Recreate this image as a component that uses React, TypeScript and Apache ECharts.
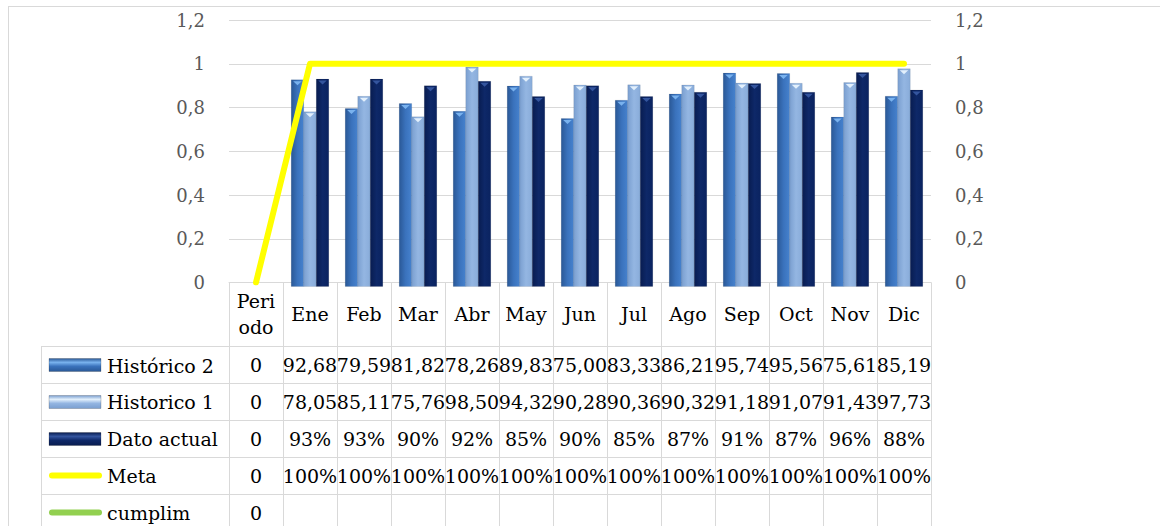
import React, { useEffect, useRef } from "react";
import * as echarts from "echarts";

const categories = ["Periodo", "Ene", "Feb", "Mar", "Abr", "May", "Jun", "Jul", "Ago", "Sep", "Oct", "Nov", "Dic"];
const historico2 = [0, 92.68, 79.59, 81.82, 78.26, 89.83, 75.0, 83.33, 86.21, 95.74, 95.56, 75.61, 85.19];
const historico1 = [0, 78.05, 85.11, 75.76, 98.5, 94.32, 90.28, 90.36, 90.32, 91.18, 91.07, 91.43, 97.73];
const datoActual = [0, 0.93, 0.93, 0.9, 0.92, 0.85, 0.9, 0.85, 0.87, 0.91, 0.87, 0.96, 0.88];
const meta = [0, 1, 1, 1, 1, 1, 1, 1, 1, 1, 1, 1, 1];
const cumplim: (number | null)[] = [0, null, null, null, null, null, null, null, null, null, null, null, null];
const seriesNames = ["Histórico 2", "Historico 1", "Dato actual", "Meta", "cumplim"];

const FONT = "DejaVu Serif";
const GRID_LEFT = 229;
const GRID_RIGHT_X = 931;
const GRID_TOP = 20;
const AXIS_Y = 283;
const ROW_LINES = [346, 383, 420, 457, 494, 531];
const LEGEND_LEFT = 41;
const BORDER = "#D9D9D9";

const barStyles = [
  { stops: ["#2A5896", "#3A72BC", "#4682CE"], tri: "#79B2EE" },
  { stops: ["#7A9FD0", "#94B6E2", "#89ACDA"], tri: "#E3F0FC" },
  { stops: ["#081C50", "#0E2868", "#0A2360"], tri: "#34559E" },
];

function grad(stops: string[]) {
  return new echarts.graphic.LinearGradient(0, 0, 1, 0, [
    { offset: 0, color: stops[0] },
    { offset: 0.5, color: stops[1] },
    { offset: 1, color: stops[2] },
  ]);
}

function makeRender(idx: number) {
  return (params: any, api: any) => {
    const cat = api.value(0);
    const v = api.value(1);
    if (!v) return { type: "group", children: [] };
    const base = api.coord([cat, 0]);
    const top = api.coord([cat, v]);
    const catW = api.size([1, 0])[0];
    const bw = catW * 0.232;
    const x = base[0] + (idx - 1) * bw - bw / 2;
    const st = barStyles[idx];
    return {
      type: "group",
      children: [
        {
          type: "rect",
          shape: { x: x, y: top[1], width: bw, height: base[1] - top[1] + 4 },
          style: { fill: grad(st.stops), stroke: "rgba(0,0,0,0.15)", lineWidth: 0.5 },
        },
        {
          type: "polygon",
          shape: { points: [[x + 2, top[1] + 1.5], [x + bw - 2, top[1] + 1.5], [x + bw / 2, top[1] + 5.5]] },
          style: { fill: st.tri },
        },
      ],
    };
  };
}

function fmtHist(v: number) {
  return v === 0 ? "0" : v.toFixed(2).replace(".", ",");
}
function fmtPct(v: number | null) {
  if (v === null) return "";
  return v === 0 ? "0" : Math.round(v * 100) + "%";
}

export default function App() {
  const ref = useRef<HTMLDivElement>(null);
  useEffect(() => {
    if (!ref.current) return;
    const chart = echarts.init(ref.current, null, { renderer: "svg" });
    const axisLabelFmt = (v: number) => String(Math.round(v * 10) / 10).replace(".", ",");
    const rowTexts = [
      historico2.map(fmtHist),
      historico1.map(fmtHist),
      datoActual.map(fmtPct),
      meta.map(fmtPct),
      cumplim.map(fmtPct),
    ];
    const rowCenter = (ri: number) => (ROW_LINES[ri] + ROW_LINES[ri + 1]) / 2 + 1;
    const tableAxes = rowTexts.map((texts, ri) => ({
      type: "category",
      gridIndex: 0,
      position: "bottom",
      offset: rowCenter(ri) - AXIS_Y,
      data: categories,
      axisLine: { show: false },
      axisTick: { show: false },
      splitLine: { show: false },
      axisLabel: {
        interval: 0,
        margin: 0,
        verticalAlign: "middle",
        color: "#000",
        fontFamily: FONT,
        fontSize: 19,
        lineHeight: 26,
        hideOverlap: false,
        formatter: (_v: string, idx: number) => texts[idx],
      },
    }));

    const graphics: any[] = [];
    graphics.push({ type: "line", shape: { x1: 8, y1: 6.5, x2: 1160, y2: 6.5 }, style: { stroke: BORDER, lineWidth: 1 } });
    graphics.push({ type: "line", shape: { x1: 8.5, y1: 6, x2: 8.5, y2: 526 }, style: { stroke: BORDER, lineWidth: 1 } });
    ROW_LINES.slice(0, 5).forEach((y) => {
      graphics.push({ type: "line", shape: { x1: LEGEND_LEFT, y1: y + 0.5, x2: GRID_RIGHT_X, y2: y + 0.5 }, style: { stroke: BORDER, lineWidth: 1 } });
    });
    graphics.push({ type: "line", shape: { x1: LEGEND_LEFT + 0.5, y1: ROW_LINES[0], x2: LEGEND_LEFT + 0.5, y2: 526 }, style: { stroke: BORDER, lineWidth: 1 } });
    const keyColors: (number | string)[] = [0, 1, 2, "#FFFF00", "#92D050"];
    keyColors.forEach((k, ri) => {
      const cy = rowCenter(ri);
      if (typeof k === "number") {
        const st = barStyles[k];
        graphics.push({
          type: "rect",
          shape: { x: 49, y: cy - 7, width: 52, height: 13 },
          style: {
            fill: new echarts.graphic.LinearGradient(0, 0, 0, 1, [
              { offset: 0, color: st.stops[0] },
              { offset: 0.3, color: st.tri },
              { offset: 0.6, color: st.stops[1] },
              { offset: 1, color: st.stops[0] },
            ]),
            stroke: "rgba(0,0,0,0.3)",
            lineWidth: 0.6,
          },
        });
      } else {
        graphics.push({
          type: "line",
          shape: { x1: 52, y1: cy - 1, x2: 99, y2: cy - 1 },
          style: { stroke: k, lineWidth: 6, lineCap: "round" },
        });
      }
    });

    chart.setOption({
      animation: false,
      backgroundColor: "#ffffff",
      textStyle: { fontFamily: FONT },
      grid: [
        { left: GRID_LEFT, right: 1160 - GRID_RIGHT_X, top: GRID_TOP, bottom: 526 - AXIS_Y, containLabel: false },
        { left: GRID_LEFT, right: 1160 - GRID_RIGHT_X, top: rowCenter(0), height: rowCenter(4) - rowCenter(0), containLabel: false },
      ],
      xAxis: [
        {
          type: "category",
          gridIndex: 0,
          data: categories,
          boundaryGap: true,
          axisLine: { show: true, lineStyle: { color: BORDER, width: 1 } },
          axisTick: { show: true, interval: 0, alignWithLabel: false, length: 260, lineStyle: { color: BORDER, width: 1 } },
          axisLabel: {
            interval: 0,
            margin: 31,
            verticalAlign: "middle",
            color: "#000",
            fontFamily: FONT,
            fontSize: 19,
            lineHeight: 26,
            formatter: (v: string) => (v === "Periodo" ? "Peri\nodo" : v),
          },
        },
        ...tableAxes,
        { type: "value", gridIndex: 1, show: false },
      ],
      yAxis: [
        {
          type: "value",
          gridIndex: 0,
          min: 0,
          max: 1.2,
          interval: 0.2,
          axisLine: { show: false },
          axisTick: { show: false },
          splitLine: { lineStyle: { color: BORDER, width: 1 } },
          axisLabel: { color: "#595959", fontFamily: FONT, fontSize: 18, margin: 24, formatter: axisLabelFmt },
        },
        {
          type: "value",
          gridIndex: 0,
          min: 0,
          max: 1.2,
          interval: 0.2,
          position: "right",
          axisLine: { show: false },
          axisTick: { show: false },
          splitLine: { show: false },
          axisLabel: { color: "#595959", fontFamily: FONT, fontSize: 18, margin: 24, formatter: axisLabelFmt },
        },
        {
          type: "category",
          gridIndex: 1,
          data: seriesNames,
          inverse: true,
          boundaryGap: false,
          axisLine: { show: false },
          axisTick: { show: false },
          splitLine: { show: false },
          axisLabel: {
            interval: 0,
            align: "left",
            verticalAlign: "middle",
            margin: GRID_LEFT - 107,
            color: "#000",
            fontFamily: FONT,
            fontSize: 19,
            lineHeight: 26,
          },
        },
      ],
      series: [
        { name: seriesNames[0], type: "custom", renderItem: makeRender(0), encode: { x: 0, y: 1 }, data: historico2.map((v, i) => [i, v / 100]), z: 2 },
        { name: seriesNames[1], type: "custom", renderItem: makeRender(1), encode: { x: 0, y: 1 }, data: historico1.map((v, i) => [i, v / 100]), z: 2 },
        { name: seriesNames[2], type: "custom", renderItem: makeRender(2), encode: { x: 0, y: 1 }, data: datoActual.map((v, i) => [i, v]), z: 3 },
        {
          name: seriesNames[3],
          type: "line",
          data: meta,
          showSymbol: false,
          symbol: "none",
          lineStyle: { color: "#FFFF00", width: 6, cap: "round", join: "round" },
          z: 5,
        },
        {
          name: seriesNames[4],
          type: "line",
          data: cumplim,
          showSymbol: false,
          symbol: "none",
          lineStyle: { color: "#92D050", width: 6 },
          z: 5,
        },
      ],
      graphic: graphics,
    });
    return () => chart.dispose();
  }, []);
  return <div ref={ref} style={{ position: "absolute", left: 0, top: 0, width: 1160, height: 526 }} />;
}
